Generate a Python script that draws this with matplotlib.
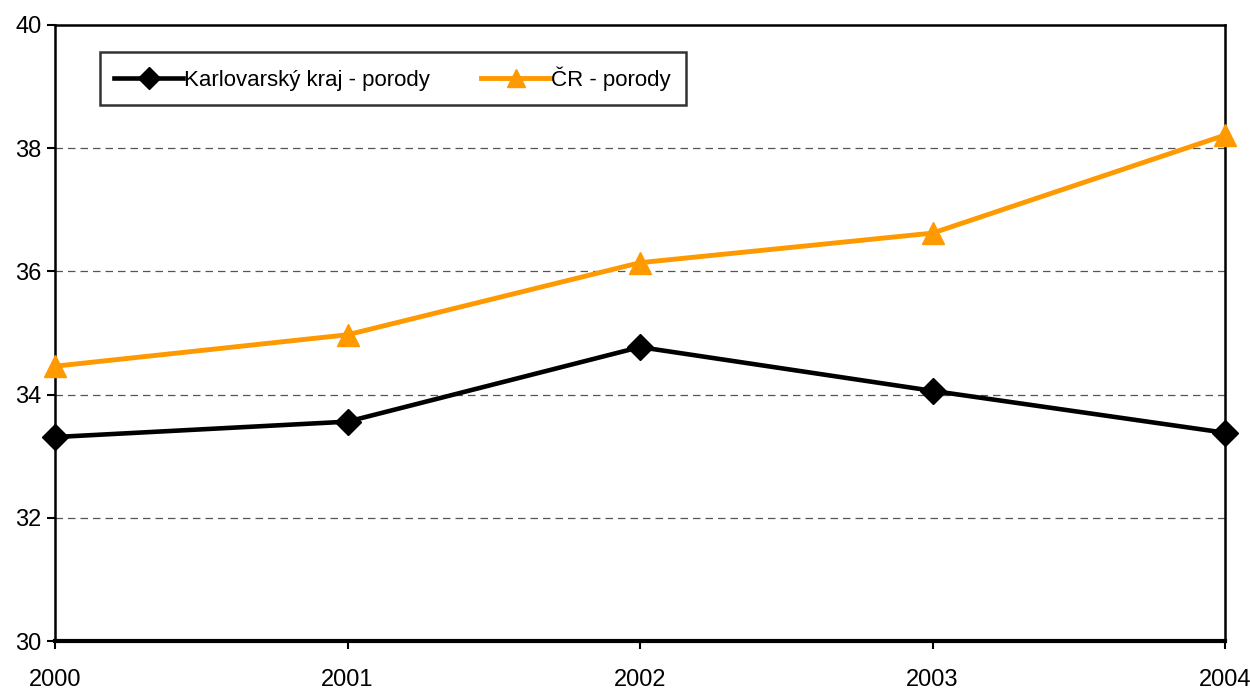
import matplotlib
matplotlib.use("Agg")
import matplotlib.pyplot as plt

years = [2000, 2001, 2002, 2003, 2004]
karlovarsky = [33.31, 33.56, 34.77, 34.06, 33.38]
cr = [34.46, 34.97, 36.14, 36.62, 38.21]
labels = ["Karlovarský kraj - porody", "ČR - porody"]

plt.rcParams['font.family'] = ['Liberation Sans', 'DejaVu Sans']

fig = plt.figure(figsize=(12.5, 6.9), dpi=100)
ax = fig.add_axes([0.044, 0.071, 0.936, 0.893])

ax.plot(years, karlovarsky, color='black', lw=3.3, marker='D', ms=13, label=labels[0], clip_on=False, zorder=3)
ax.plot(years, cr, color='#FF9900', lw=3.5, marker='^', ms=16, label=labels[1], clip_on=False, zorder=3)

ax.set_xlim(2000, 2004)
ax.set_ylim(30, 40)
ax.set_xticks(years)
ax.set_yticks([30, 32, 34, 36, 38, 40])
for y in [32, 34, 36, 38]:
    ax.axhline(y, color='#555555', lw=0.9, ls=(0, (6, 4)), zorder=1)

for s in ax.spines.values():
    s.set_linewidth(1.8)
ax.spines['bottom'].set_linewidth(3)
ax.tick_params(axis='both', direction='out', length=6, width=1.5, labelsize=17)
ax.tick_params(axis='x', pad=14)

leg = ax.legend(loc='upper left', bbox_to_anchor=(0.0385, 0.956), ncol=2, fontsize=16,
                frameon=True, fancybox=False, edgecolor='black', handlelength=3.1,
                columnspacing=2.3, borderpad=0.65, handletextpad=0.05, borderaxespad=0,
                markerscale=0.85)
leg.get_frame().set_linewidth(1.8)

fig.savefig("out.png", dpi=100)
